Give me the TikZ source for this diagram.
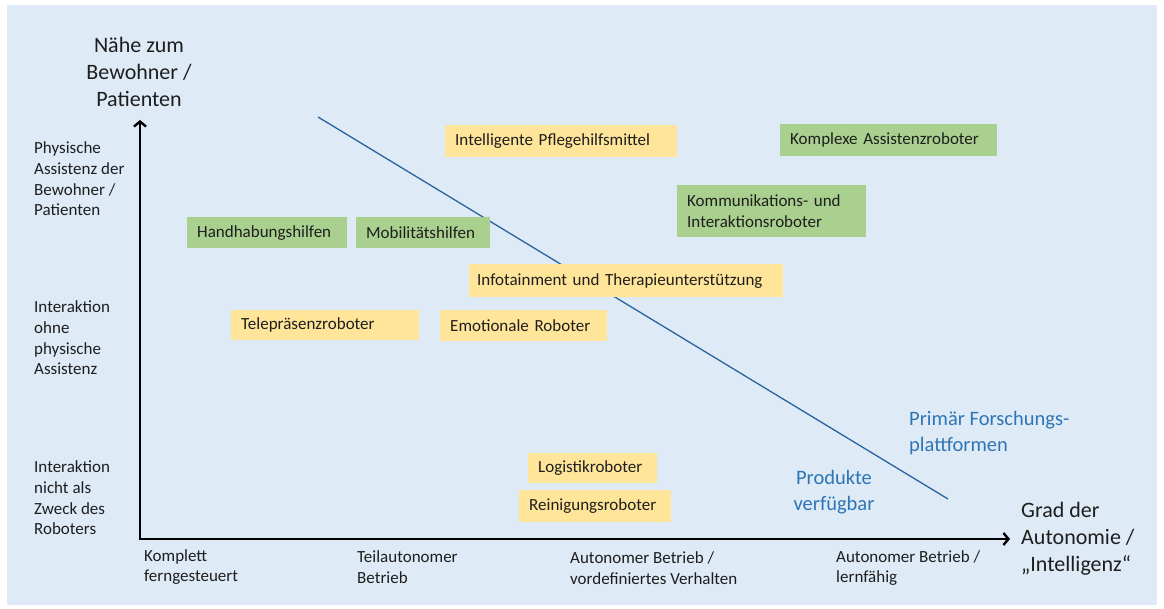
\documentclass[tikz,border=0pt]{standalone}
\usepackage{fontspec}
\setmainfont{Carlito}
\usetikzlibrary{arrows.meta}
\definecolor{bgblue}{RGB}{222,234,246}
\definecolor{ylw}{RGB}{255,229,153}
\definecolor{grn}{RGB}{169,208,142}
\definecolor{txt}{RGB}{30,30,30}
\definecolor{blu}{RGB}{46,117,182}
\definecolor{lineblue}{RGB}{40,100,160}
\tikzset{
  lbl/.style={font=\fontsize{17}{20.7}\selectfont, text=txt, align=left, inner sep=0pt},
  big/.style={font=\fontsize{22}{27}\selectfont, text=txt, inner sep=0pt},
  bluelbl/.style={font=\fontsize{20.5}{25.5}\selectfont, text=blu, inner sep=0pt},
  box/.style={font=\fontsize{17}{20.7}\selectfont, text=txt, align=left, inner xsep=10pt, inner ysep=0pt, anchor=north west},
  ybox/.style={box, fill=ylw},
  gbox/.style={box, fill=grn},
  axis/.style={line width=2.4pt, black, {Straight Barb[length=5pt,width=12pt]}-{Straight Barb[length=5pt,width=12pt]}},
  diag/.style={line width=1.3pt, lineblue}
}
\begin{document}
\begin{tikzpicture}[x=1pt,y=-1pt]
\useasboundingbox (0,0) rectangle (1164,609);
\fill[white] (0,0) rectangle (1164,609);
\fill[bgblue] (7,5) rectangle (1157,605);

% axes
\coordinate (ytip) at (140,120);
\coordinate (origin) at (140,539);
\coordinate (xtip) at (1010,539);
\draw[axis] (ytip) -- (origin) -- (xtip);

% diagonal
\coordinate (ls) at (318,117);
\coordinate (le) at (948,499);
\draw[diag] (ls) -- (le);

% axis titles
\node[big, align=center] (ytitle) at (139,72) {Nähe zum\\Bewohner /\\Patienten};
\node[big, align=left, anchor=west] (xtitle) at (1021,539) {Grad der\\Autonomie /\\„Intelligenz“};

% y categories
\node[lbl, anchor=west] (y1) at (34,179) {Physische\\Assistenz der\\Bewohner /\\Patienten};
\node[lbl, anchor=west] (y2) at (34,338) {Interaktion\\ohne\\physische\\Assistenz};
\node[lbl, anchor=west] (y3) at (34,498) {Interaktion\\nicht als\\Zweck des\\Roboters};

% x categories
\node[lbl, anchor=west] (x1) at (144,567) {Komplett\\ferngesteuert};
\node[lbl, anchor=west] (x2) at (357,567) {Teilautonomer\\Betrieb};
\node[lbl, anchor=west] (x3) at (570,568) {Autonomer Betrieb /\\vordefiniertes Verhalten};
\node[lbl, anchor=west] (x4) at (836,568) {Autonomer Betrieb /\\lernfähig};

% blue labels
\node[bluelbl, align=left, anchor=west] (forsch) at (909,433) {Primär Forschungs-\\plattformen};
\node[bluelbl, align=center] (prod) at (834,492) {Produkte\\verfügbar};

% boxes
\node[ybox, text width=212pt, minimum height=32pt] (pflege) at (445,125) {Intelligente Pflegehilfsmittel};
\node[gbox, text width=197pt, minimum height=32pt] (komplex) at (780,124) {Komplexe Assistenzroboter};
\node[gbox, text width=169pt, minimum height=52pt] (kommu) at (677,185) {Kommunikations- und\\Interaktionsroboter};
\node[gbox, text width=140pt, minimum height=31pt] (handh) at (187,217) {Handhabungshilfen};
\node[gbox, text width=114pt, minimum height=31pt] (mobil) at (356,217) {Mobilitätshilfen};
\node[ybox, inner xsep=8pt, text width=298pt, minimum height=33pt] (info) at (469,264) {Infotainment und Therapieunterstützung};
\node[ybox, text width=168pt, minimum height=30pt] (tele) at (231,310) {Telepräsenzroboter};
\node[ybox, text width=147pt, minimum height=31pt] (emo) at (440,310) {Emotionale Roboter};
\node[ybox, text width=109pt, minimum height=30pt] (logi) at (528,453) {Logistikroboter};
\node[ybox, text width=132pt, minimum height=32pt] (rein) at (519,490) {Reinigungsroboter};
\end{tikzpicture}
\end{document}
